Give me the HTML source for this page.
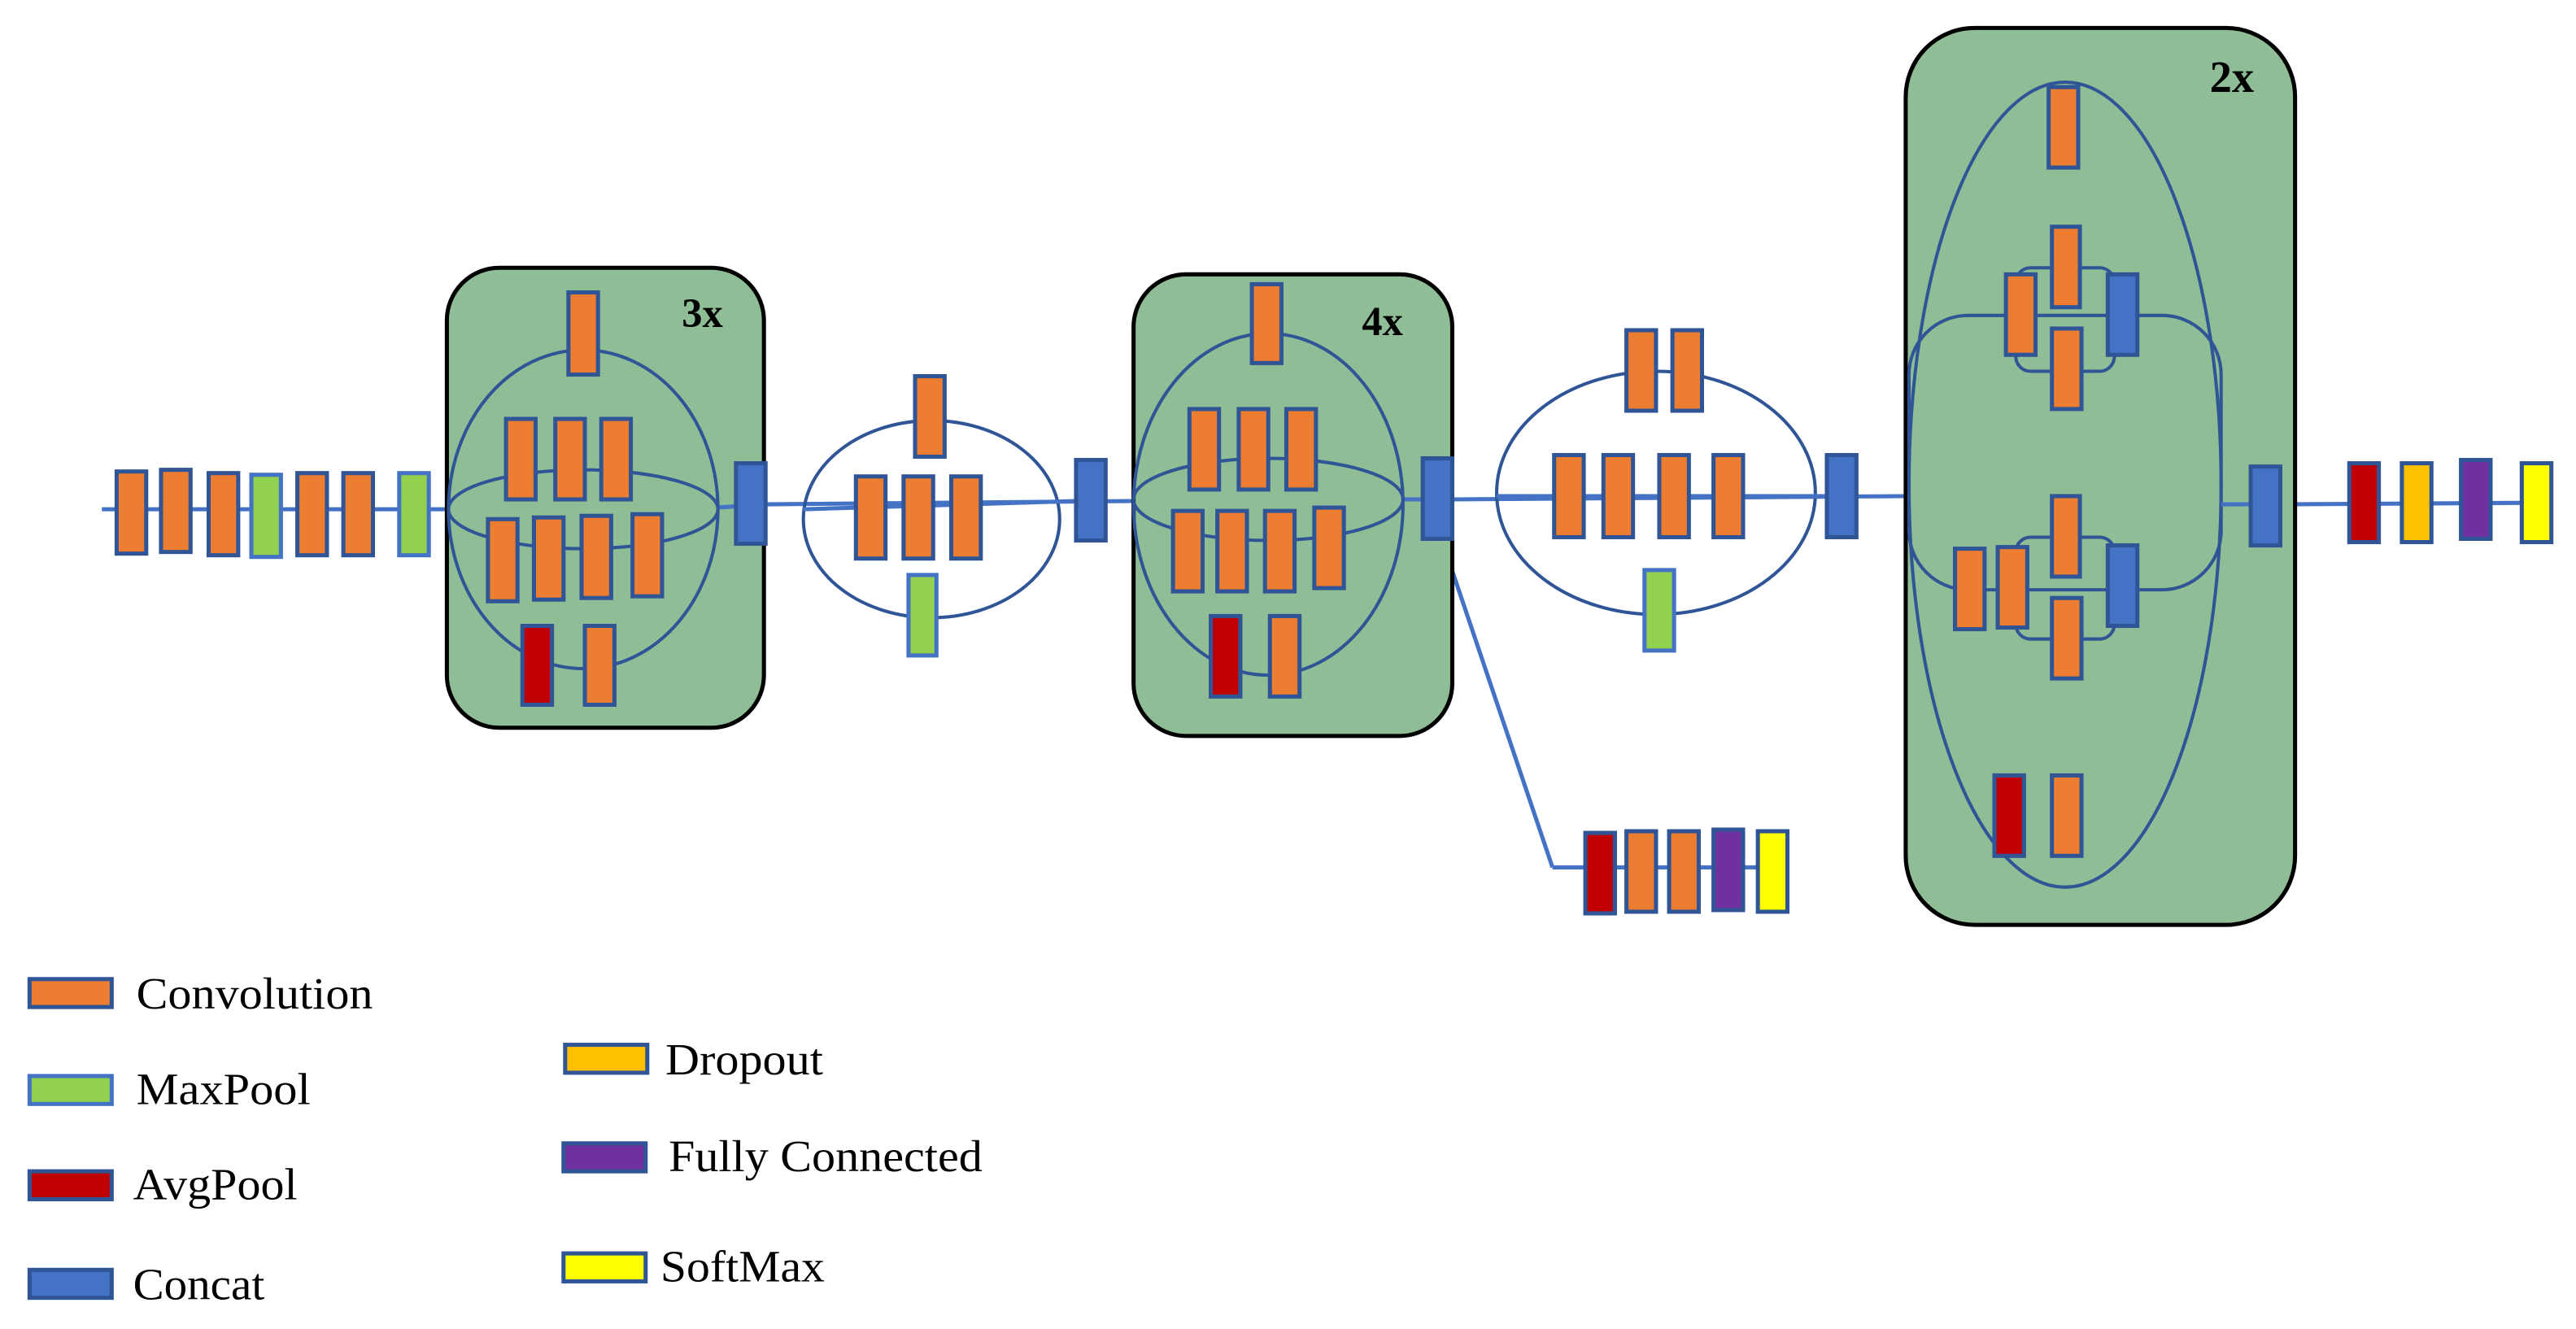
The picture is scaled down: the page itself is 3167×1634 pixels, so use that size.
<!DOCTYPE html>
<html><head><meta charset="utf-8"><style>html,body{margin:0;padding:0;background:#fff}svg{display:block}</style></head>
<body>
<svg width="3167" height="1634" viewBox="0 0 1568 809" xmlns="http://www.w3.org/2000/svg" font-family="Liberation Serif, serif">
<defs><style>
.o{fill:#ed7d31;stroke:#2f5597;stroke-width:2.5}
.g{fill:#92d050;stroke:#4472c4;stroke-width:2.5}
.r{fill:#c00000;stroke:#2f5597;stroke-width:2.5}
.b{fill:#4472c4;stroke:#2f5597;stroke-width:2.5}
.p{fill:#7030a0;stroke:#2f5597;stroke-width:2.5}
.y{fill:#ffff00;stroke:#2f5597;stroke-width:2.5}
.d{fill:#ffc000;stroke:#2f5597;stroke-width:2.5}
.l{fill:none;stroke:#2f5597;stroke-width:2}
.ln{stroke:#4472c4;stroke-width:2.5}
.blk{fill:#8fbd96;stroke:#000;stroke-width:2.5}
</style></defs>
<!-- main lines -->
<line class="ln" x1="62" y1="310" x2="272" y2="310"/>
<line class="ln" x1="465" y1="307" x2="690" y2="305"/>
<line class="ln" x1="884" y1="304" x2="1160" y2="302"/>
<line class="ln" x1="1388" y1="307" x2="1552" y2="306"/>
<line class="ln" x1="874" y1="318" x2="945" y2="528"/>
<line class="ln" x1="945" y1="528" x2="1088" y2="528"/>
<!-- input chain -->
<rect class="o" x="71" y="287" width="18" height="50"/>
<rect class="o" x="98" y="286" width="18" height="50"/>
<rect class="o" x="127" y="288" width="18" height="50"/>
<rect class="g" x="153" y="289" width="18" height="50"/>
<rect class="o" x="181" y="288" width="18" height="50"/>
<rect class="o" x="209" y="288" width="18" height="50"/>
<rect class="g" x="243" y="288" width="18" height="50"/>
<!-- block 1 -->
<rect class="blk" x="272" y="163" width="193" height="280" rx="32"/>
<line class="ln" x1="436" y1="309" x2="465" y2="307"/>
<ellipse class="l" cx="355" cy="310" rx="82" ry="97"/>
<ellipse class="l" cx="355" cy="310" rx="82" ry="24"/>
<rect class="o" x="346" y="178" width="18" height="50"/>
<rect class="o" x="308" y="255" width="18" height="49"/>
<rect class="o" x="338" y="255" width="18" height="49"/>
<rect class="o" x="366" y="255" width="18" height="49"/>
<rect class="o" x="297" y="316" width="18" height="50"/>
<rect class="o" x="325" y="315" width="18" height="50"/>
<rect class="o" x="354" y="314" width="18" height="50"/>
<rect class="o" x="385" y="313" width="18" height="50"/>
<rect class="r" x="318" y="381" width="18" height="48"/>
<rect class="o" x="356" y="381" width="18" height="48"/>
<rect class="b" x="448" y="282" width="18" height="49"/>
<text x="415" y="199" font-size="25" font-weight="bold">3x</text>
<!-- ellipse 2 -->
<ellipse class="l" cx="567" cy="316" rx="78" ry="60" fill="#fff"/>
<line class="ln" x1="489" y1="310" x2="655" y2="305"/>
<rect class="o" x="557" y="229" width="18" height="49"/>
<rect class="o" x="521" y="290" width="18" height="50"/>
<rect class="o" x="550" y="290" width="18" height="50"/>
<rect class="o" x="579" y="290" width="18" height="50"/>
<rect class="g" x="553" y="350" width="17" height="49"/>
<rect class="b" x="655" y="280" width="18" height="49"/>
<!-- block 2 -->
<rect class="blk" x="690" y="167" width="194" height="281" rx="32"/>
<line class="ln" x1="854" y1="304" x2="866" y2="304"/>
<ellipse class="l" cx="772" cy="307" rx="82" ry="104"/>
<ellipse class="l" cx="772" cy="304" rx="82" ry="25"/>
<rect class="o" x="762" y="173" width="18" height="48"/>
<rect class="o" x="724" y="249" width="18" height="49"/>
<rect class="o" x="754" y="249" width="18" height="49"/>
<rect class="o" x="783" y="249" width="18" height="49"/>
<rect class="o" x="714" y="311" width="18" height="49"/>
<rect class="o" x="741" y="311" width="18" height="49"/>
<rect class="o" x="770" y="311" width="18" height="49"/>
<rect class="o" x="800" y="309" width="18" height="49"/>
<rect class="r" x="737" y="375" width="18" height="49"/>
<rect class="o" x="773" y="375" width="18" height="49"/>
<rect class="b" x="866" y="279" width="18" height="49"/>
<text x="829" y="204" font-size="25" font-weight="bold">4x</text>
<!-- aux chain -->
<rect class="r" x="965" y="507" width="18" height="49"/>
<rect class="o" x="990" y="506" width="18" height="49"/>
<rect class="o" x="1016" y="506" width="18" height="49"/>
<rect class="p" x="1043" y="505" width="18" height="49"/>
<rect class="y" x="1070" y="506" width="18" height="49"/>
<!-- ellipse 3 -->
<ellipse class="l" cx="1008" cy="300" rx="97" ry="74"/>
<line class="ln" x1="911" y1="302" x2="1112" y2="302"/>
<rect class="o" x="990" y="201" width="18" height="49"/>
<rect class="o" x="1018" y="201" width="18" height="49"/>
<rect class="o" x="946" y="277" width="18" height="50"/>
<rect class="o" x="976" y="277" width="18" height="50"/>
<rect class="o" x="1010" y="277" width="18" height="50"/>
<rect class="o" x="1043" y="277" width="18" height="50"/>
<rect class="g" x="1001" y="347" width="18" height="49"/>
<rect class="b" x="1112" y="277" width="18" height="50"/>
<!-- block 3 -->
<rect class="blk" x="1160" y="17" width="237" height="546" rx="42"/>
<text x="1345" y="56" font-size="27" font-weight="bold">2x</text>
<ellipse class="l" cx="1257" cy="295" rx="95" ry="245"/>
<rect class="l" x="1162" y="192" width="190" height="167" rx="36"/>
<line class="ln" x1="1352" y1="307" x2="1370" y2="307"/>
<rect class="l" x="1227" y="163" width="60" height="63" rx="9"/>
<rect class="l" x="1227" y="327" width="60" height="62" rx="9"/>
<rect class="o" x="1247" y="53" width="18" height="49"/>
<rect class="o" x="1221" y="167" width="18" height="49"/>
<rect class="o" x="1249" y="138" width="17" height="49"/>
<rect class="o" x="1249" y="200" width="18" height="49"/>
<rect class="b" x="1283" y="167" width="18" height="49"/>
<rect class="o" x="1190" y="334" width="18" height="49"/>
<rect class="o" x="1216" y="333" width="18" height="49"/>
<rect class="o" x="1249" y="302" width="17" height="49"/>
<rect class="o" x="1249" y="364" width="18" height="49"/>
<rect class="b" x="1283" y="332" width="18" height="49"/>
<rect class="r" x="1214" y="472" width="18" height="49"/>
<rect class="o" x="1249" y="472" width="18" height="49"/>
<rect class="b" x="1370" y="284" width="18" height="48"/>
<!-- output chain -->
<rect class="r" x="1430" y="282" width="18" height="48"/>
<rect class="d" x="1462" y="282" width="18" height="48"/>
<rect class="p" x="1498" y="280" width="18" height="48"/>
<rect class="y" x="1535" y="282" width="18" height="48"/>
<!-- legend -->
<rect class="o" x="18" y="596" width="50" height="17"/>
<rect class="g" x="18" y="655" width="50" height="17"/>
<rect class="r" x="18" y="713" width="50" height="17"/>
<rect class="b" x="18" y="773" width="50" height="17"/>
<rect class="d" x="344" y="636" width="50" height="17"/>
<rect class="p" x="343" y="696" width="50" height="17"/>
<rect class="y" x="343" y="763" width="50" height="17"/>
<g font-size="27">
<text x="83" y="614" textLength="144" lengthAdjust="spacingAndGlyphs">Convolution</text>
<text x="83" y="672" textLength="106" lengthAdjust="spacingAndGlyphs">MaxPool</text>
<text x="81" y="730" textLength="100" lengthAdjust="spacingAndGlyphs">AvgPool</text>
<text x="81" y="791" textLength="80" lengthAdjust="spacingAndGlyphs">Concat</text>
<text x="405" y="654" textLength="96" lengthAdjust="spacingAndGlyphs">Dropout</text>
<text x="407" y="713" textLength="191" lengthAdjust="spacingAndGlyphs">Fully Connected</text>
<text x="402" y="780" textLength="100" lengthAdjust="spacingAndGlyphs">SoftMax</text>
</g>
</svg>
</body></html>
